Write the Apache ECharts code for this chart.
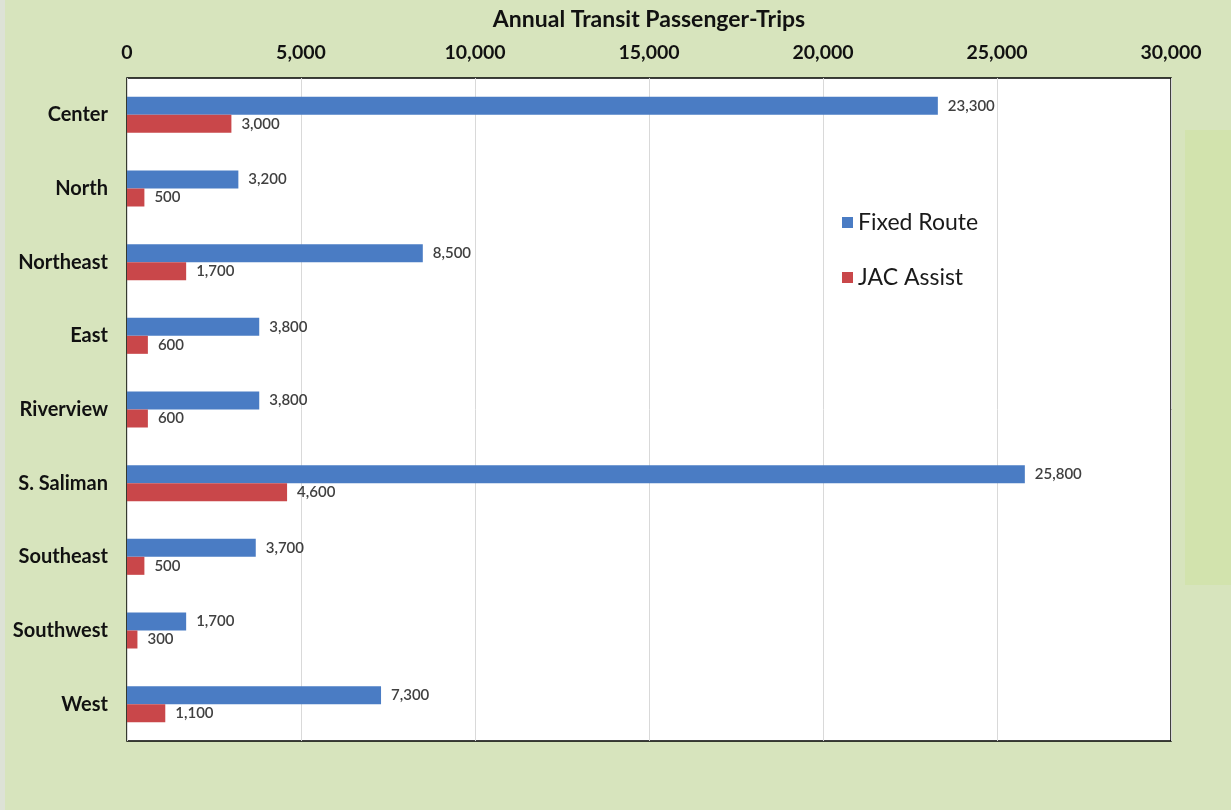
<!DOCTYPE html>
<html>
<head>
<meta charset="utf-8">
<script src="https://cdn.jsdelivr.net/npm/echarts@6/dist/echarts.min.js"></script>
<style>
  html, body { margin: 0; padding: 0; background: #D7E4BD; }
  #chart { width: 1231px; height: 810px; }
</style>
</head>
<body>
<div id="chart"></div>
<script>
// Neighborhoods, top to bottom
const categories = ['Center', 'North', 'Northeast', 'East', 'Riverview', 'S. Saliman', 'Southeast', 'Southwest', 'West'];
// Annual trips by service type
const fixedRoute = [23300, 3200, 8500, 3800, 3800, 25800, 3700, 1700, 7300];
const jacAssist  = [3000, 500, 1700, 600, 600, 4600, 500, 300, 1100];
const axisTicks = [0, 5000, 10000, 15000, 20000, 25000, 30000];

const FONT = 'Lato, "Open Sans", sans-serif';
const fmt = v => v.toLocaleString('en-US');

const chart = echarts.init(document.getElementById('chart'), null, { renderer: 'canvas' });

const labelStyle = {
  show: true,
  position: 'right',
  distance: 10,
  color: '#404040',
  fontFamily: FONT,
  fontSize: 15,
  fontWeight: 600,
  formatter: p => fmt(p.value)
};

chart.setOption({
  backgroundColor: '#D7E4BD',
  animation: false,
  textStyle: { fontFamily: FONT },
  graphic: [
    { type: 'rect', left: 1185, top: 130, shape: { width: 46, height: 455 }, style: { fill: '#D2E3AD' }, z: -10 },
    { type: 'rect', left: 0, top: 0, shape: { width: 5, height: 810 }, style: { fill: '#DDE2D6' }, z: -10 }
  ],
  grid: {
    left: 127, right: 60, top: 78, bottom: 69,
    outerBoundsMode: 'none',
    containLabel: false,
    show: true,
    backgroundColor: '#FFFFFF',
    borderColor: '#000000',
    borderWidth: 1.5
  },
  legend: {
    orient: 'vertical',
    left: 837, top: 206,
    itemWidth: 11, itemHeight: 11,
    itemGap: 32,
    icon: 'rect',
    textStyle: { fontFamily: FONT, fontSize: 23, color: '#1a1a1a', padding: [0, 0, 0, 0] },
    data: ['Fixed Route', 'JAC Assist']
  },
  xAxis: {
    type: 'value',
    position: 'top',
    min: axisTicks[0],
    max: axisTicks[axisTicks.length - 1],
    interval: axisTicks[1] - axisTicks[0],
    name: 'Annual Transit Passenger-Trips',
    nameLocation: 'middle',
    nameGap: 47,
    nameTextStyle: { fontFamily: FONT, fontSize: 23, fontWeight: 'bold', color: '#111' },
    axisLine: { show: false },
    axisTick: { show: false },
    axisLabel: {
      fontFamily: FONT, fontSize: 19.5, fontWeight: 'bold', color: '#111', margin: 15,
      formatter: v => fmt(v)
    },
    splitLine: { show: true, lineStyle: { color: '#D9D9D9', width: 1 } }
  },
  yAxis: {
    type: 'category',
    data: categories,
    inverse: true,
    axisLine: { show: false },
    axisTick: { show: false },
    axisLabel: { fontFamily: FONT, fontSize: 20, fontWeight: 'bold', color: '#111', margin: 19 }
  },
  series: [
    {
      name: 'Fixed Route',
      type: 'bar',
      data: fixedRoute,
      barWidth: 18,
      barGap: '0%',
      itemStyle: { color: '#4A7CC4' },
      label: labelStyle
    },
    {
      name: 'JAC Assist',
      type: 'bar',
      data: jacAssist,
      barWidth: 18,
      barGap: '0%',
      itemStyle: { color: '#C9474A' },
      label: labelStyle
    }
  ]
});
</script>
</body>
</html>
